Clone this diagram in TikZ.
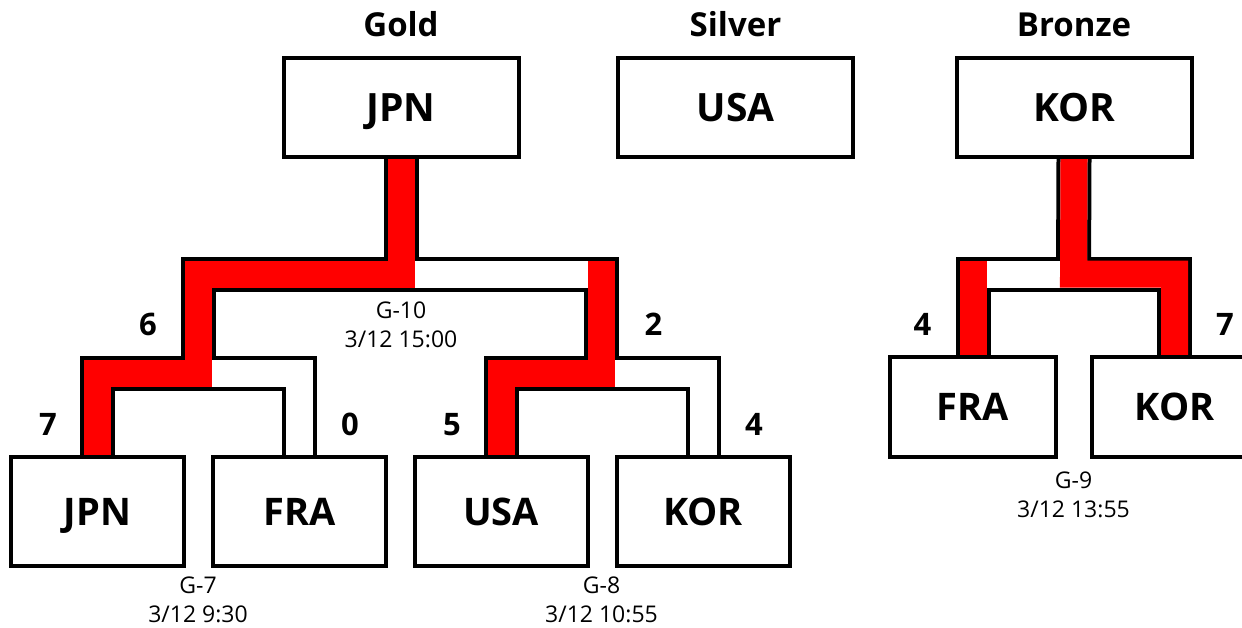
\documentclass[tikz,border=0pt]{standalone}
\usepackage{fontspec}
\setmainfont{Open Sans}
\usetikzlibrary{backgrounds}

\tikzset{
  box/.style={draw, line width=4pt, fill=white, inner sep=0pt, text depth=0pt},
  topbox/.style={box, minimum width=235pt, minimum height=99pt,
    font=\fontsize{39}{47}\selectfont\bfseries, text height=28pt},
  teambox/.style={box, minimum width=173pt, minimum height=109pt,
    font=\fontsize{38}{46}\selectfont\bfseries, text height=27pt},
  bronzebox/.style={box, minimum width=166pt, minimum height=100pt,
    font=\fontsize{38}{46}\selectfont\bfseries, text height=27pt},
  medal/.style={anchor=base, inner sep=0pt, font=\fontsize{33}{40}\selectfont\bfseries},
  score/.style={anchor=base, inner sep=0pt, font=\fontsize{31}{37}\selectfont\bfseries},
  game/.style={anchor=base, inner sep=0pt, align=center, font=\fontsize{23}{29}\selectfont},
  win/.style={red, line width=27pt}
}

\begin{document}
\begin{tikzpicture}[x=1pt, y=-1pt]
    \useasboundingbox (0,0) rectangle (1242,627);

    % medal headings
    \node[medal] (gold) at (401,36) {Gold};
    \node[medal] (silver) at (735.5,36) {Silver};
    \node[medal] (bronze) at (1074,36) {Bronze};

    % final standings
    \node[topbox] (jpnT) at (401,107.5) {JPN};
    \node[topbox] (usaT) at (735.5,107.5) {USA};
    \node[topbox] (korT) at (1074,107.5) {KOR};

    % first round teams
    \node[teambox] (jpnA) at (97.5,511.5) {JPN};
    \node[teambox] (fraA) at (299.5,511.5) {FRA};
    \node[teambox] (usaA) at (501,511.5) {USA};
    \node[teambox] (korA) at (703,511.5) {KOR};

    % third place teams
    \node[bronzebox] (fraB) at (973,407) {FRA};
    \node[bronzebox] (korB) at (1174.5,407) {KOR};

    % where the games meet
    \coordinate (g7) at (198,373.5);
    \coordinate (g8) at (601.5,373.5);
    \coordinate (g10) at (401,274);
    \coordinate (g9) at (1073.5,274);

    % bracket tubes behind the boxes
    \begin{scope}[on background layer]
      \foreach \c/\w in {black/35pt, white/27pt} {
        \draw[\c, line width=\w] (jpnA.north) |- (g7) -| (fraA.north);
        \draw[\c, line width=\w] (usaA.north) |- (g8) -| (korA.north);
        \draw[\c, line width=\w] (g7) |- (g10) -| (g8);
        \draw[\c, line width=\w] (g10) -- (jpnT.south);
        \draw[\c, line width=\w] (fraB.north) |- (g9) -| (korB.north);
        \draw[\c, line width=\w] (g9) -- (korT.south);
      }
      % winners in red
      \draw[win] (jpnA.north) |- (g7) |- (g10) -- (jpnT.south);
      \draw[win, line cap=rect] (usaA.north) |- (g8) -- (g8 |- g10);
      \draw[win, line cap=rect] (fraB.north) -- (fraB.north |- g9);
      \draw[win] (korB.north) |- (g9) -- (korT.south);
    \end{scope}

    % scores
    \node[score] (s10a) at (148,335) {6};
    \node[score] (s10b) at (653.5,335) {2};
    \node[score] (s7a) at (48,435) {7};
    \node[score] (s7b) at (350,435) {0};
    \node[score] (s8a) at (452,435) {5};
    \node[score] (s8b) at (754,435) {4};
    \node[score] (s9a) at (922.5,335) {4};
    \node[score] (s9b) at (1225,335) {7};

    % game numbers and times
    \node[game] (t10) at (401,347) {G-10\\3/12 15:00};
    \node[game] (t7) at (198,622) {G-7\\3/12 9:30};
    \node[game] (t8) at (601.5,622) {G-8\\3/12 10:55};
    \node[game] (t9) at (1073.5,517) {G-9\\3/12 13:55};
\end{tikzpicture}
\end{document}
